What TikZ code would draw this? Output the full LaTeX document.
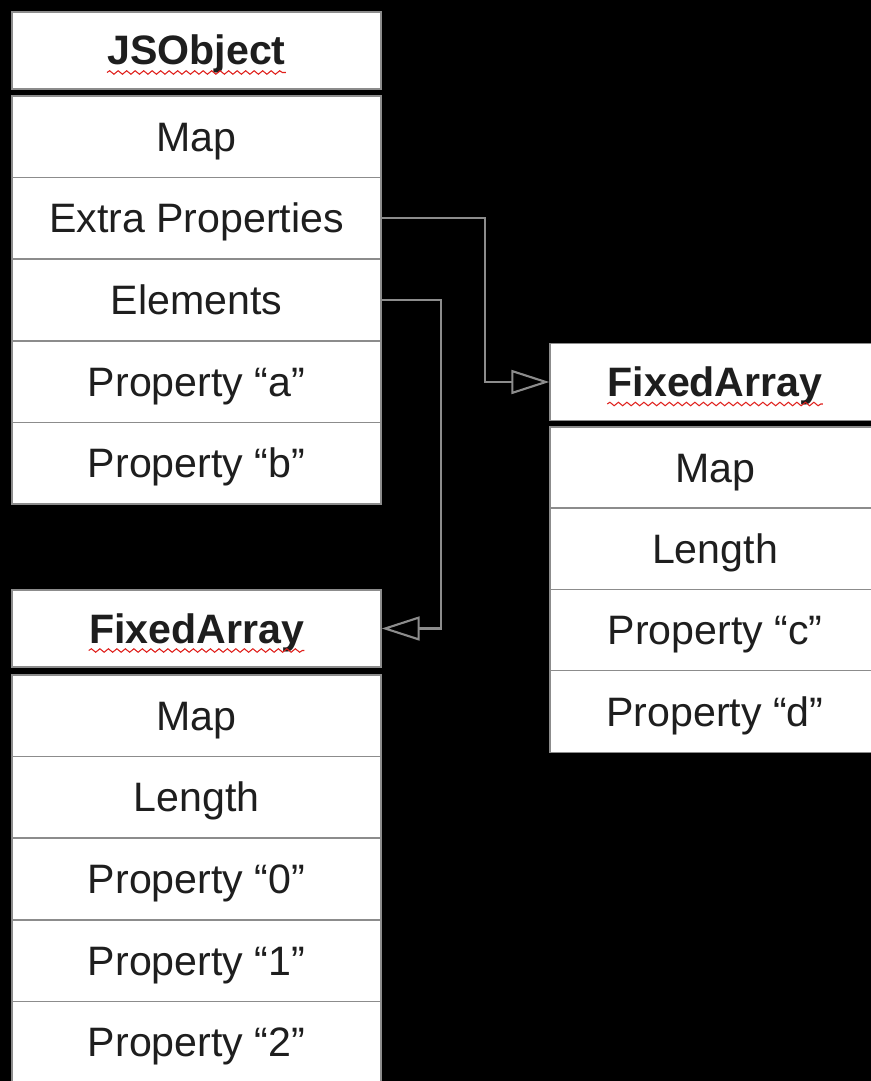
\documentclass[tikz,border=0pt]{standalone}
\usepackage{fontspec}
\setmainfont{Liberation Sans}
\usetikzlibrary{arrows.meta,decorations.pathmorphing}
\definecolor{obj-line}{HTML}{8C8C8C}
\definecolor{obj-text}{HTML}{1E1E1E}
\definecolor{obj-squig}{HTML}{E0201C}

\begin{document}
\begin{tikzpicture}[x=0.02cm, y=-0.02cm,
    cell/.style={draw=obj-line, line width=0.8pt, fill=white, text=obj-text,
                 minimum width=7.38cm, minimum height=1.632cm, inner sep=0pt,
                 text height=0.67cm, text depth=0.09cm,
                 font=\fontsize{23.4}{28}\selectfont},
    head/.style={cell, minimum height=1.54cm},
    title/.style={inner sep=0pt, text=obj-text, text height=0.67cm,
                  text depth=0.09cm, font=\fontsize{23.4}{28}\selectfont\bfseries},
    squig/.style={obj-squig, line width=0.6pt, decorate,
                  decoration={snake, segment length=0.17cm, amplitude=0.035cm}},
    arr/.style={-{Triangle[open, length=0.76cm, width=0.48cm]}, obj-line,
                line width=1.2pt},
  ]
    % Backdrop
    \useasboundingbox (0,0) rectangle (871,1081);
    \clip (0,0) rectangle (871,1081);
    \fill[black] (0,0) rectangle (871,1081);

    % JSObject
    \node[head] (jso)   at (196.5, 50.5) {};
    \node[title] (jso-title) at (jso) {JSObject};
    \node[cell] (jso-map)   at (196.5,136.8) {Map};
    \node[cell] (jso-extra) at (196.5,218.4) {Extra Properties};
    \node[cell] (jso-elem)  at (196.5,300.0) {Elements};
    \node[cell] (jso-a)     at (196.5,381.6) {Property “a”};
    \node[cell] (jso-b)     at (196.5,463.2) {Property “b”};

    % FixedArray holding the elements
    \node[head] (elems) at (196.5,628.5) {};
    \node[title] (elems-title) at (elems) {FixedArray};
    \node[cell] (elems-map) at (196.5, 715.8) {Map};
    \node[cell] (elems-len) at (196.5, 797.4) {Length};
    \node[cell] (elems-0)   at (196.5, 879.0) {Property “0”};
    \node[cell] (elems-1)   at (196.5, 960.6) {Property “1”};
    \node[cell] (elems-2)   at (196.5,1042.2) {Property “2”};

    % FixedArray holding the extra properties
    \node[head, minimum width=6.6cm] (props) at (715,382) {};
    \node[title] (props-title) at (props) {FixedArray};
    \node[cell, minimum width=6.6cm] (props-map) at (715,467.6) {Map};
    \node[cell, minimum width=6.6cm] (props-len) at (715,548.9) {Length};
    \node[cell, minimum width=6.6cm] (props-c)   at (715,630.2) {Property “c”};
    \node[cell, minimum width=6.6cm] (props-d)   at (715,711.5) {Property “d”};

    % Spell-check squiggles under the type names
    \draw[squig] ([yshift=-0.15cm]jso-title.base west)
              -- ([yshift=-0.15cm]jso-title.base east);
    \draw[squig] ([yshift=-0.15cm]elems-title.base west)
              -- ([yshift=-0.15cm]elems-title.base east);
    \draw[squig] ([yshift=-0.15cm]props-title.base west)
              -- ([yshift=-0.15cm]props-title.base east);

    % Pointers
    \draw[arr] (jso-extra.east) -- ++(103,0) |- (props.west);
    \draw[arr] (jso-elem.east)  -- ++(59,0)  |- (elems.east);
  \end{tikzpicture}
\end{document}
